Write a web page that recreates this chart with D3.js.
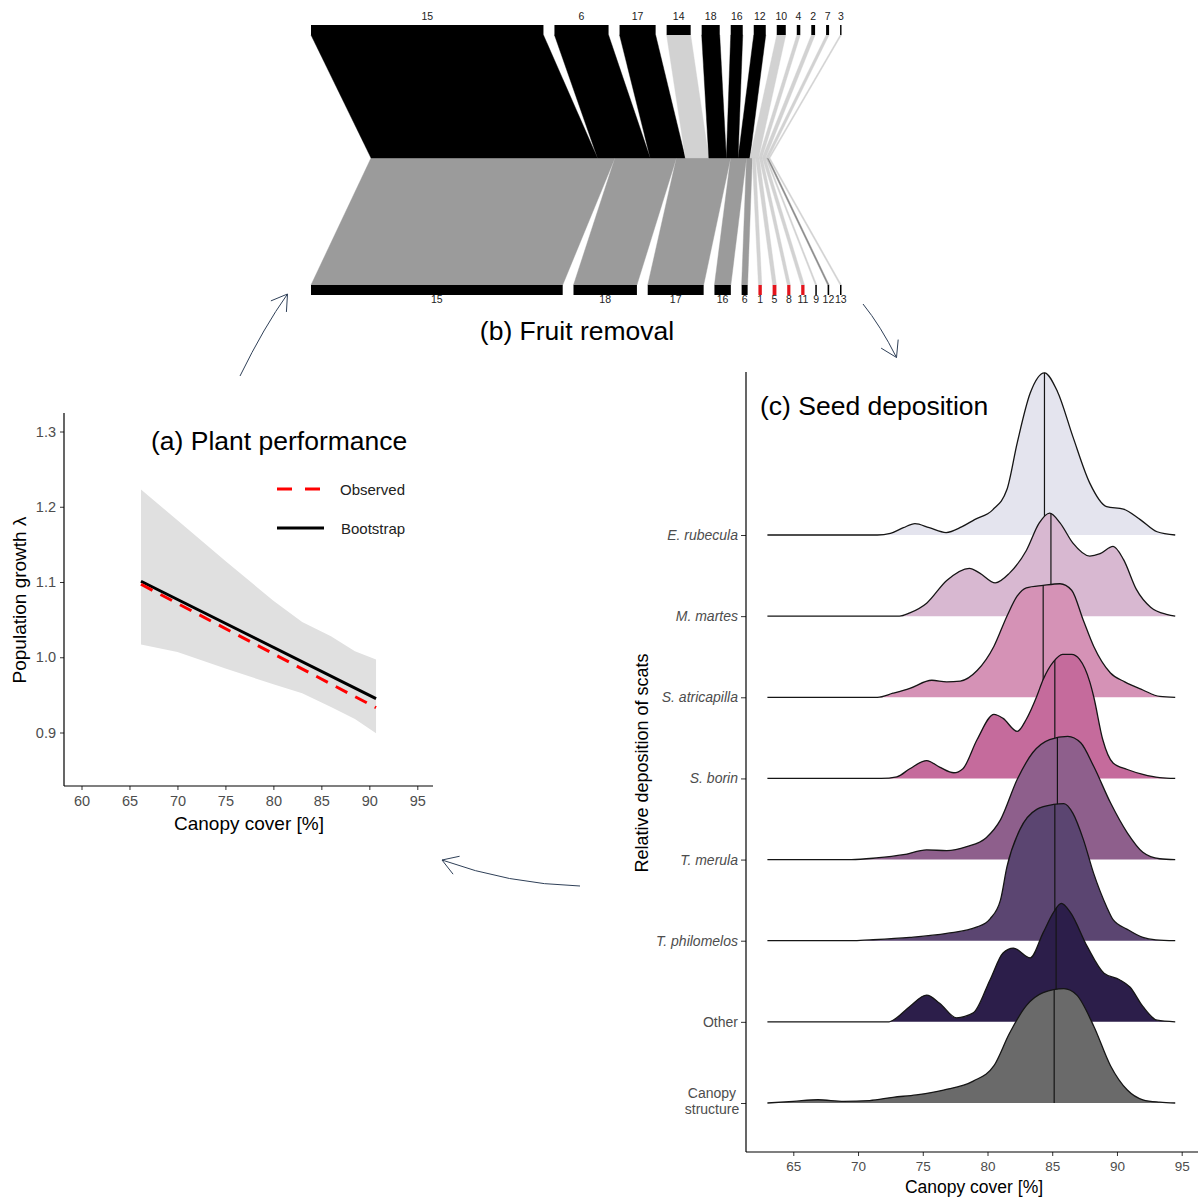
<!DOCTYPE html>
<html><head><meta charset="utf-8">
<script src="https://cdn.jsdelivr.net/npm/d3@7"></script>
<style>
body{margin:0;background:#fff;}
text{font-family:"Liberation Sans",Arial,Helvetica,sans-serif;}
</style>
</head><body>
<svg id="c" width="1200" height="1198"></svg>
<script>
// ================= DATA =================
// (b) Fruit removal – bipartite web
const topLabels = ["15","6","17","14","18","16","12","10","4","2","7","3"];
const topValues = [232,54,36,24,18,12,12,9,3.5,3.8,3,1.4];
const topLinkShade = ["dark","dark","dark","light","dark","dark","dark","light","light","light","light","light"];
const bottomLabels = ["15","18","17","16","6","1","5","8","11","9","12","13"];
const bottomValues = [252,63.5,56,16.4,6,3.4,3.8,3.2,3.3,1.5,1.6,1.5];
const bottomBoxShade = ["black","black","black","black","black","red","red","red","red","black","black","black"];
const bottomLinkShade = ["mid","mid","mid","mid","mid","light","light","light","light","light","grey","light"];

// (a) Plant performance
const canopyA = [66.2, 70, 75, 80, 83, 86, 88.5, 90.7];
const ciUpper = [1.223, 1.182, 1.128, 1.075, 1.047, 1.028, 1.008, 0.997];
const ciLower = [1.017, 1.007, 0.985, 0.964, 0.952, 0.934, 0.918, 0.899];
const lineCanopy = [66.2, 90.7];
const bootstrapLambda = [1.101, 0.945];
const observedLambda = [1.097, 0.933];
const xTicksA = [60,65,70,75,80,85,90,95];
const yTicksA = [0.9,1.0,1.1,1.2,1.3];

// (c) Seed deposition – ridges (heights in row units)
const species = ["E. rubecula","M. martes","S. atricapilla","S. borin","T. merula","T. philomelos","Other","Canopy structure"];
const italicLabel = [true,true,true,true,true,true,false,false];
const medians = [84.4,84.9,84.3,85.2,85.4,85.2,85.3,85.15];
const densERubecula = [[63,0],[71.5,0],[72.5,0.02],[73.5,0.09],[74.4,0.14],[75.5,0.09],[76.8,0.03],[78,0.10],[79,0.19],[80.4,0.31],[81.5,0.56],[82.3,1.14],[83.3,1.75],[84.4,2.0],[85.4,1.77],[86.6,1.21],[87.9,0.64],[89.2,0.35],[90.5,0.32],[91.8,0.19],[93.1,0.04],[94.5,0]];
const densMMartes = [[63,0],[73.2,0],[74,0.04],[75.3,0.16],[76.85,0.44],[78.6,0.59],[79.4,0.53],[80.6,0.41],[81.7,0.53],[83,0.81],[84,1.15],[84.8,1.27],[85.6,1.15],[86.6,0.90],[87.9,0.74],[88.7,0.77],[89.7,0.86],[90.5,0.70],[91.5,0.33],[92.6,0.11],[93.9,0.02],[94.5,0]];
const densSAtricapilla = [[63,0],[71.5,0],[72.7,0.05],[74,0.11],[75.7,0.21],[76.85,0.19],[77.9,0.2],[79.2,0.33],[80.5,0.63],[81.5,1.0],[82.3,1.25],[83,1.35],[84.3,1.38],[85.6,1.40],[86.5,1.32],[87.4,0.95],[88.2,0.63],[89.5,0.30],[90.6,0.19],[92,0.09],[93.3,0.01],[94.5,0]];
const densSBorin = [[63,0],[71.8,0],[73,0.02],[74,0.12],[75.3,0.22],[76.3,0.14],[77.4,0.07],[78.1,0.12],[79.2,0.48],[80.5,0.79],[81.2,0.74],[82.3,0.58],[83,0.73],[83.8,1.01],[84.3,1.22],[85.1,1.44],[85.8,1.53],[86.5,1.53],[87.1,1.47],[87.9,1.19],[88.2,1.01],[88.9,0.48],[89.7,0.19],[90.8,0.11],[92,0.05],[93.3,0.01],[94.5,0]];
const densTMerula = [[63,0],[69.5,0],[71.4,0.02],[73.5,0.06],[75.3,0.12],[76.85,0.11],[78.4,0.16],[79.9,0.27],[81,0.49],[82.3,0.99],[83.5,1.32],[84.8,1.48],[86.2,1.52],[87.2,1.44],[88.2,1.15],[89.5,0.70],[90.8,0.33],[92,0.09],[93.3,0.01],[94.5,0]];
const densTPhilomelos = [[63,0],[69.5,0],[70.9,0.01],[74,0.04],[76.85,0.09],[79.2,0.17],[80.2,0.27],[81,0.5],[81.5,0.91],[82.5,1.37],[83.8,1.62],[85.1,1.68],[85.9,1.69],[86.6,1.57],[87.4,1.25],[88.2,0.83],[89.2,0.42],[89.7,0.26],[90.8,0.14],[92,0.04],[93,0.01],[94.5,0]];
const densOther = [[63,0],[72.4,0],[72.7,0.02],[74,0.19],[75.3,0.33],[76.3,0.23],[77.6,0.05],[78.9,0.11],[80.2,0.52],[81.2,0.85],[82,0.91],[83.3,0.79],[84.3,1.1],[85.1,1.35],[85.7,1.46],[86.4,1.35],[87.7,0.93],[89,0.6],[90.2,0.52],[91,0.43],[92,0.19],[93.1,0.02],[94.5,0]];
const densCanopy = [[63,0],[65,0.02],[66.9,0.04],[68.9,0.02],[70.9,0.03],[72.7,0.07],[74.5,0.1],[76.6,0.16],[78.9,0.27],[80.5,0.46],[81.7,0.86],[83,1.2],[84.3,1.36],[85.9,1.41],[86.9,1.33],[88.2,0.95],[89.5,0.46],[90.8,0.16],[92,0.04],[93.3,0.01],[94.5,0]];
const densities = [densERubecula,densMMartes,densSAtricapilla,densSBorin,densTMerula,densTPhilomelos,densOther,densCanopy];
const xTicksC = [65,70,75,80,85,90,95];

// ================= STYLE =================
const ridgeFill = ["#e4e4ee","#d8b8d1","#d592b6","#c56b9c","#8e5f8c","#5b4571","#2c1e4a","#6a6a6a"];
const shadeColor = {dark:"#000000", light:"#d2d2d2", mid:"#9b9b9b", grey:"#8c8c8c", black:"#000000", red:"#e3141c"};
const tickGrey = "#4d4d4d";
const arrowCol = "#2f4058";

const svg = d3.select("#c");

// ================= PANEL B =================
function layout(values, x0, x1, gap) {
  const w = d3.scaleLinear().domain([0, d3.sum(values)]).range([0, x1 - x0 - gap*(values.length-1)]);
  let x = x0;
  return values.map(v => { const o = {x0:x, x1:x + w(v)}; x = o.x1 + gap; return o; });
}
const topBoxes = layout(topValues, 311, 841.5, 11);
const topMid   = layout(topValues, 371, 770, 0);
const botBoxes = layout(bottomValues, 311, 841.5, 10.8);
const botMid   = layout(bottomValues, 371, 770, 0);
const yTopBox0 = 25, yTopBox1 = 35, yMid = 158, yBot0 = 285, yBot1 = 295;
const gB = svg.append("g");

// bottom links
gB.selectAll("path.bl").data(bottomValues).join("path")
  .attr("d", (d,i) => d3.line()([[botMid[i].x0,yMid],[botMid[i].x1,yMid],[botBoxes[i].x1,yBot0],[botBoxes[i].x0,yBot0]]) + "Z")
  .attr("fill", (d,i) => shadeColor[bottomLinkShade[i]])
  .attr("stroke", (d,i) => shadeColor[bottomLinkShade[i]]).attr("stroke-width", 0.4);
// top links
gB.selectAll("path.tl").data(topValues).join("path")
  .attr("d", (d,i) => d3.line()([[topBoxes[i].x0,yTopBox1],[topBoxes[i].x1,yTopBox1],[topMid[i].x1,yMid],[topMid[i].x0,yMid]]) + "Z")
  .attr("fill", (d,i) => shadeColor[topLinkShade[i]])
  .attr("stroke", (d,i) => shadeColor[topLinkShade[i]]).attr("stroke-width", 0.4);
// boxes
gB.selectAll("rect.tb").data(topValues).join("rect")
  .attr("x", (d,i) => topBoxes[i].x0).attr("width", (d,i) => Math.max(1.2, topBoxes[i].x1 - topBoxes[i].x0))
  .attr("y", yTopBox0).attr("height", yTopBox1 - yTopBox0).attr("fill", "#000");
gB.selectAll("rect.bb").data(bottomValues).join("rect")
  .attr("x", (d,i) => botBoxes[i].x0).attr("width", (d,i) => Math.max(1.4, botBoxes[i].x1 - botBoxes[i].x0))
  .attr("y", yBot0).attr("height", yBot1 - yBot0).attr("fill", (d,i) => shadeColor[bottomBoxShade[i]]);
// labels
gB.selectAll("text.tt").data(topLabels).join("text")
  .attr("x", (d,i) => (topBoxes[i].x0 + topBoxes[i].x1)/2).attr("y", 20)
  .attr("text-anchor","middle").attr("font-size", 10.5).attr("fill","#222").text(d => d);
gB.selectAll("text.bt").data(bottomLabels).join("text")
  .attr("x", (d,i) => (botBoxes[i].x0 + botBoxes[i].x1)/2).attr("y", 303)
  .attr("text-anchor","middle").attr("font-size", 10.5).attr("fill","#222").text(d => d);
gB.append("text").attr("x", 577).attr("y", 340).attr("text-anchor","middle")
  .attr("font-size", 26.5).attr("fill","#000").text("(b) Fruit removal");

// ================= PANEL A =================
const gA = svg.append("g");
const xA = d3.scaleLinear().domain([60,95]).range([81.5,417.3]);
const yA = d3.scaleLinear().domain([0.9,1.3]).range([732.5,431.5]);
const ribbon = canopyA.map((c,i) => [c, ciLower[i], ciUpper[i]]);
gA.append("path").datum(ribbon)
  .attr("d", d3.area().x(d => xA(d[0])).y0(d => yA(d[1])).y1(d => yA(d[2])))
  .attr("fill", "#e0e0e0");
gA.append("path").datum(lineCanopy.map((c,i) => [c, bootstrapLambda[i]]))
  .attr("d", d3.line().x(d => xA(d[0])).y(d => yA(d[1])))
  .attr("stroke","#000").attr("stroke-width",3).attr("fill","none");
gA.append("path").datum(lineCanopy.map((c,i) => [c, observedLambda[i]]))
  .attr("d", d3.line().x(d => xA(d[0])).y(d => yA(d[1])))
  .attr("stroke","#ff0000").attr("stroke-width",3).attr("stroke-dasharray","13,9").attr("fill","none");

const axA_x = gA.append("g").attr("transform","translate(0,786)")
  .call(d3.axisBottom(xA).tickValues(xTicksA).tickSize(4).tickPadding(6));
const axA_y = gA.append("g").attr("transform","translate(64,0)")
  .call(d3.axisLeft(yA).tickValues(yTicksA).tickFormat(d3.format(".1f")).tickSize(4).tickPadding(4));
[axA_x, axA_y].forEach(a => {
  a.select(".domain").remove();
  a.selectAll(".tick line").attr("stroke","#333");
  a.selectAll(".tick text").attr("fill",tickGrey).attr("font-size",14.5).attr("font-family","Liberation Sans, Arial, sans-serif");
});
gA.append("line").attr("x1",64).attr("x2",433).attr("y1",786).attr("y2",786).attr("stroke","#000").attr("stroke-width",1.2);
gA.append("line").attr("x1",64).attr("x2",64).attr("y1",413).attr("y2",786).attr("stroke","#000").attr("stroke-width",1.2);
gA.append("text").attr("x",249).attr("y",830).attr("text-anchor","middle").attr("font-size",19).text("Canopy cover [%]");
gA.append("text").attr("transform","translate(26,600) rotate(-90)").attr("text-anchor","middle").attr("font-size",19).text("Population growth λ");
gA.append("text").attr("x",151).attr("y",450).attr("font-size",26.5).text("(a) Plant performance");
// legend
gA.append("line").attr("x1",277).attr("x2",322).attr("y1",489).attr("y2",489)
  .attr("stroke","#ff0000").attr("stroke-width",3).attr("stroke-dasharray","15,13");
gA.append("line").attr("x1",277).attr("x2",324).attr("y1",528).attr("y2",528)
  .attr("stroke","#000").attr("stroke-width",3);
gA.append("text").attr("x",340).attr("y",494.5).attr("font-size",15).attr("fill","#222").text("Observed");
gA.append("text").attr("x",341).attr("y",533.5).attr("font-size",15).attr("fill","#222").text("Bootstrap");

// ================= PANEL C =================
const gC = svg.append("g");
const xC = d3.scaleLinear().domain([65,95]).range([793.3,1181.7]);
const yC = d3.scalePoint().domain(species).range([535,1103]);
const hC = d3.scaleLinear().domain([0,1]).range([0,81.1]);

species.forEach((sp,i) => {
  const base = yC(sp);
  const pts = densities[i];
  const g = gC.append("g");
  g.append("path").datum(pts)
    .attr("d", d3.area().x(d => xC(d[0])).y0(base).y1(d => base - hC(d[1])).curve(d3.curveMonotoneX))
    .attr("fill", ridgeFill[i]);
  const outline = g.append("path").datum(pts)
    .attr("d", d3.line().x(d => xC(d[0])).y(d => base - hC(d[1])).curve(d3.curveMonotoneX))
    .attr("fill","none").attr("stroke","#151515").attr("stroke-width",1.3);
  // median line: find curve height at the median
  const node = outline.node(), L = node.getTotalLength(), target = xC(medians[i]);
  let lo = 0, hi = L;
  for (let k = 0; k < 40; k++) { const m = (lo+hi)/2; if (node.getPointAtLength(m).x < target) lo = m; else hi = m; }
  const topY = node.getPointAtLength((lo+hi)/2).y;
  g.append("line").attr("x1",target).attr("x2",target).attr("y1",base).attr("y2",topY)
    .attr("stroke","#151515").attr("stroke-width",1.2);
});

const axC_x = gC.append("g").attr("transform","translate(0,1152)")
  .call(d3.axisBottom(xC).tickValues(xTicksC).tickSize(4).tickPadding(5));
const axC_y = gC.append("g").attr("transform","translate(746,0)")
  .call(d3.axisLeft(yC).tickSize(5).tickPadding(3).tickFormat(""));
[axC_x, axC_y].forEach(a => {
  a.select(".domain").remove();
  a.selectAll(".tick line").attr("stroke","#333");
  a.selectAll(".tick text").attr("fill",tickGrey).attr("font-size",13.5).attr("font-family","Liberation Sans, Arial, sans-serif");
});
// category labels
species.forEach((sp,i) => {
  const t = gC.append("text").attr("x",738).attr("text-anchor","end").attr("font-size",14).attr("fill",tickGrey)
    .attr("font-style", italicLabel[i] ? "italic" : "normal");
  const words = sp === "Canopy structure" ? ["Canopy","structure"] : [sp];
  if (words.length === 1) {
    t.attr("y", yC(sp) + 5).text(sp);
  } else {
    t.attr("text-anchor","middle").attr("x",712);
    words.forEach((w,k) => t.append("tspan").attr("x",712).attr("y", yC(sp) - 5 + k*16).text(w));
  }
});
gC.append("line").attr("x1",746).attr("x2",746).attr("y1",372).attr("y2",1152).attr("stroke","#000").attr("stroke-width",1.2);
gC.append("line").attr("x1",746).attr("x2",1198).attr("y1",1152).attr("y2",1152).attr("stroke","#000").attr("stroke-width",1.2);
gC.append("text").attr("x",974).attr("y",1193).attr("text-anchor","middle").attr("font-size",17.5).text("Canopy cover [%]");
gC.append("text").attr("transform","translate(648,763) rotate(-90)").attr("text-anchor","middle").attr("font-size",18).text("Relative deposition of scats");
gC.append("text").attr("x",760).attr("y",415).attr("font-size",26.5).text("(c) Seed deposition");

// ================= ARROWS =================
const arrows = [
  {s:[240,376], c:[264,327], e:[287.5,294]},
  {s:[863,304], c:[880.6,325.8], e:[896.5,357.5]},
  {s:[580,886], c:[508,884], e:[442,860]}
];
arrows.forEach(a => {
  const p = d3.path(); p.moveTo(...a.s); p.quadraticCurveTo(...a.c, ...a.e);
  svg.append("path").attr("d", p.toString()).attr("fill","none").attr("stroke",arrowCol).attr("stroke-width",1);
  const ang = Math.atan2(a.c[1]-a.e[1], a.c[0]-a.e[0]);
  const len = 18, half = 32*Math.PI/180;
  const w1 = [a.e[0]+len*Math.cos(ang+half), a.e[1]+len*Math.sin(ang+half)];
  const w2 = [a.e[0]+len*Math.cos(ang-half), a.e[1]+len*Math.sin(ang-half)];
  svg.append("path").attr("d", d3.line()([w1, a.e, w2])).attr("fill","none").attr("stroke",arrowCol).attr("stroke-width",1);
});
</script>
</body></html>
